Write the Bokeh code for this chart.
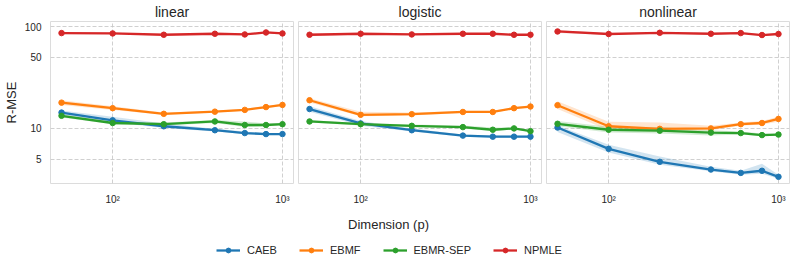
from bokeh.plotting import figure
from bokeh.models import Range1d, FixedTicker, Grid, Label, Legend, LegendItem
from bokeh.layouts import row, column
from bokeh.embed import file_html
from bokeh.resources import INLINE

FONT = "Liberation Sans"
TEXT = "#262626"

# ---------------- data ----------------
DIMS = [50, 100, 200, 400, 600, 800, 1000]
METHODS = ["CAEB", "EBMF", "EBMR-SEP", "NPMLE"]
COLORS = ["#1f77b4", "#ff7f0e", "#2ca02c", "#d62728"]
PANELS = ["linear", "logistic", "nonlinear"]

X_TICKS = [100, 1000]
X_TICK_LABELS = ["10\u00b2", "10\u00b3"]
Y_TICKS = [5, 10, 50, 100]
Y_TICK_LABELS = ["5", "10", "50", "100"]

# linear
LIN_CAEB = [14.3, 12.0, 10.5, 9.6, 9.0, 8.8, 8.8]
LIN_CAEB_LO = [13.7, 11.5, 10.1, 9.3, 8.8, 8.6, 8.6]
LIN_CAEB_HI = [15.0, 13.0, 11.2, 9.9, 9.3, 9.0, 9.0]
LIN_EBMF = [17.9, 15.8, 13.9, 14.6, 15.2, 16.2, 17.0]
LIN_EBMF_LO = [17.0, 15.2, 13.6, 14.3, 14.9, 15.9, 16.6]
LIN_EBMF_HI = [18.9, 16.5, 14.3, 14.9, 15.6, 16.6, 17.4]
LIN_SEP = [13.3, 11.3, 11.0, 11.7, 10.8, 10.8, 11.0]
LIN_SEP_LO = [12.8, 11.0, 10.7, 11.3, 10.3, 10.5, 10.7]
LIN_SEP_HI = [13.8, 11.6, 11.4, 12.1, 11.7, 11.2, 11.3]
LIN_NPMLE = [86.2, 85.5, 83.0, 84.9, 83.6, 87.4, 85.5]
LIN_NPMLE_LO = [84.5, 84.0, 81.5, 83.5, 82.0, 85.0, 84.0]
LIN_NPMLE_HI = [87.8, 87.0, 84.5, 86.3, 85.2, 89.5, 87.0]

# logistic
LOG_CAEB = [15.5, 11.2, 9.6, 8.5, 8.3, 8.3, 8.3]
LOG_CAEB_LO = [14.6, 10.6, 9.3, 8.3, 8.1, 8.1, 8.1]
LOG_CAEB_HI = [16.5, 11.8, 10.0, 8.7, 8.5, 8.5, 8.5]
LOG_EBMF = [18.9, 13.6, 13.8, 14.5, 14.5, 15.8, 16.4]
LOG_EBMF_LO = [18.0, 13.2, 13.4, 14.2, 14.2, 15.5, 16.0]
LOG_EBMF_HI = [19.8, 14.6, 14.3, 14.8, 14.8, 16.2, 16.8]
LOG_SEP = [11.7, 11.0, 10.6, 10.3, 9.7, 10.0, 9.4]
LOG_SEP_LO = [11.4, 10.7, 10.3, 10.0, 9.4, 9.8, 9.2]
LOG_SEP_HI = [12.0, 11.3, 10.9, 10.7, 10.2, 10.2, 9.6]
LOG_NPMLE = [83.0, 84.9, 83.6, 84.9, 84.9, 83.0, 83.0]
LOG_NPMLE_LO = [80.5, 83.5, 82.0, 83.5, 83.3, 81.5, 81.5]
LOG_NPMLE_HI = [85.5, 86.3, 85.2, 86.3, 86.5, 84.5, 84.5]

# nonlinear
NON_CAEB = [10.2, 6.3, 4.7, 3.95, 3.66, 3.84, 3.35]
NON_CAEB_LO = [9.2, 5.8, 4.4, 3.8, 3.5, 3.6, 3.2]
NON_CAEB_HI = [10.7, 6.9, 5.3, 4.2, 3.85, 4.5, 3.5]
NON_EBMF = [16.9, 10.5, 9.9, 10.0, 11.0, 11.3, 12.4]
NON_EBMF_LO = [15.5, 9.6, 9.3, 9.6, 10.6, 10.9, 11.6]
NON_EBMF_HI = [18.5, 11.6, 11.4, 10.6, 11.4, 11.8, 13.0]
NON_SEP = [11.1, 9.7, 9.5, 9.1, 9.0, 8.6, 8.7]
NON_SEP_LO = [10.5, 9.1, 8.9, 8.5, 8.7, 8.4, 8.5]
NON_SEP_HI = [11.8, 10.4, 10.3, 9.6, 9.3, 8.9, 8.9]
NON_NPMLE = [89.4, 84.4, 86.8, 84.9, 86.2, 82.5, 84.4]
NON_NPMLE_LO = [86.5, 83.0, 85.5, 83.5, 84.8, 81.0, 83.0]
NON_NPMLE_HI = [92.0, 85.8, 88.0, 86.3, 87.6, 84.0, 85.8]

PANEL_DATA = {
    "linear": [(LIN_CAEB, LIN_CAEB_LO, LIN_CAEB_HI), (LIN_EBMF, LIN_EBMF_LO, LIN_EBMF_HI),
               (LIN_SEP, LIN_SEP_LO, LIN_SEP_HI), (LIN_NPMLE, LIN_NPMLE_LO, LIN_NPMLE_HI)],
    "logistic": [(LOG_CAEB, LOG_CAEB_LO, LOG_CAEB_HI), (LOG_EBMF, LOG_EBMF_LO, LOG_EBMF_HI),
                 (LOG_SEP, LOG_SEP_LO, LOG_SEP_HI), (LOG_NPMLE, LOG_NPMLE_LO, LOG_NPMLE_HI)],
    "nonlinear": [(NON_CAEB, NON_CAEB_LO, NON_CAEB_HI), (NON_EBMF, NON_EBMF_LO, NON_EBMF_HI),
                  (NON_SEP, NON_SEP_LO, NON_SEP_HI), (NON_NPMLE, NON_NPMLE_LO, NON_NPMLE_HI)],
}

FRAME_W = 243
FRAME_H = 162


def make_panel(name, first, last):
    p = figure(frame_width=FRAME_W, frame_height=FRAME_H,
               x_axis_type="log", y_axis_type="log",
               x_range=Range1d(43.05, 1161.4), y_range=Range1d(2.88, 112),
               output_backend="svg", toolbar_location=None, title=name,
               y_axis_location="left" if first else None,
               min_border_left=0 if first else 3,
               min_border_right=6 if last else 2,
               min_border_top=0, min_border_bottom=0)
    p.background_fill_color = "white"
    p.border_fill_color = "white"
    p.outline_line_color = "#dcdcdc"
    p.outline_line_width = 1

    p.title.align = "center"
    p.title.text_font = FONT
    p.title.text_font_size = "14px"
    p.title.text_font_style = "normal"
    p.title.text_color = TEXT
    p.title.standoff = 3

    xa = p.xaxis[0]
    xa.ticker = FixedTicker(ticks=X_TICKS)
    xa.major_label_overrides = {t: l for t, l in zip(X_TICKS, X_TICK_LABELS)}
    xa.axis_line_color = None
    xa.major_tick_line_color = None
    xa.minor_tick_line_color = None
    xa.major_label_standoff = 4
    xa.major_label_text_font = FONT
    xa.major_label_text_font_size = "10px"
    xa.major_label_text_color = TEXT

    if first:
        ya = p.yaxis[0]
        ya.ticker = FixedTicker(ticks=Y_TICKS)
        ya.major_label_overrides = {t: l for t, l in zip(Y_TICKS, Y_TICK_LABELS)}
        ya.axis_line_color = None
        ya.major_tick_line_color = None
        ya.minor_tick_line_color = None
        ya.major_label_standoff = 3
        ya.major_label_text_font = FONT
        ya.major_label_text_font_size = "10px"
        ya.major_label_text_color = TEXT
        ya.axis_label = "R-MSE"
        ya.axis_label_text_font = FONT
        ya.axis_label_text_font_size = "13px"
        ya.axis_label_text_font_style = "normal"
        ya.axis_label_text_color = TEXT
        ya.axis_label_standoff = 3

    # grids
    for g in list(p.xgrid) + list(p.ygrid):
        g.visible = False
    for dim, ticks in ((0, X_TICKS), (1, Y_TICKS)):
        p.add_layout(Grid(dimension=dim, ticker=FixedTicker(ticks=ticks),
                          grid_line_color="#c4c4c4", grid_line_dash="4 2",
                          grid_line_width=0.8))

    for (mean, lo, hi), color in zip(PANEL_DATA[name], COLORS):
        p.varea(x=DIMS, y1=lo, y2=hi, fill_color=color, fill_alpha=0.2)
    for (mean, lo, hi), color in zip(PANEL_DATA[name], COLORS):
        p.line(DIMS, mean, line_color=color, line_width=2.3)
        p.scatter(DIMS, mean, size=5.5, fill_color=color, line_color=color)
    return p


panels = [make_panel(n, i == 0, i == 2) for i, n in enumerate(PANELS)]

# bottom: shared x label + legend
pb = figure(width=785, height=50, x_range=Range1d(0, 1), y_range=Range1d(0, 1),
            output_backend="svg", toolbar_location=None,
            x_axis_location=None, y_axis_location=None, min_border=0)
pb.outline_line_color = None
pb.background_fill_color = "white"
pb.border_fill_color = "white"
for g in list(pb.xgrid) + list(pb.ygrid):
    g.visible = False

pb.add_layout(Label(x=388, y=33, x_units="screen", y_units="screen",
                    text="Dimension (p)", text_align="center", text_baseline="middle",
                    text_font=FONT, text_font_size="13px", text_color=TEXT))

items = []
for name, color in zip(METHODS, COLORS):
    r1 = pb.line([-5, -4], [-5, -4], line_color=color, line_width=2.3)
    r2 = pb.scatter([-5], [-5], size=5, fill_color=color, line_color=color)
    items.append(LegendItem(label=name, renderers=[r1, r2]))
leg = Legend(items=items, orientation="horizontal", location=(216, 1),
             glyph_width=24, glyph_height=12, label_height=12, label_standoff=7,
             spacing=22, padding=0, margin=0, border_line_color=None,
             background_fill_alpha=0,
             label_text_font=FONT, label_text_font_size="11px", label_text_color=TEXT)
pb.add_layout(leg)

layout = column(row(*panels), pb)

open("out.html", "w").write(file_html(layout, INLINE))
